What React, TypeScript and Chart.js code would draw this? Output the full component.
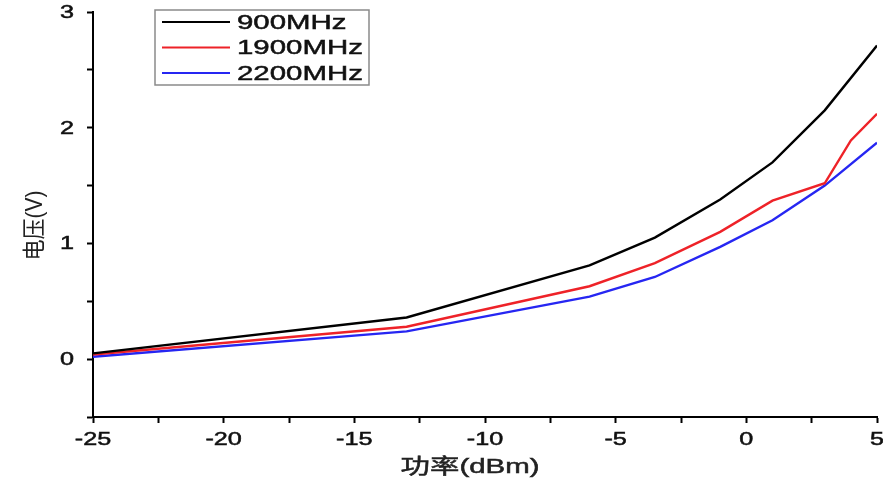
import React, { useEffect, useRef } from "react";
import { Chart, registerables } from "chart.js";

Chart.register(...registerables);

// ---- data ----
const seriesNames = ["900MHz", "1900MHz", "2200MHz"];
const power900 = [-25, -13, -6, -3.5, -1, 1, 3, 5];
const volt900 = [0.05, 0.36, 0.81, 1.05, 1.38, 1.7, 2.15, 2.71];
const power1900 = [-25, -13, -6, -3.5, -1, 1, 3, 4, 5];
const volt1900 = [0.04, 0.28, 0.63, 0.83, 1.1, 1.37, 1.52, 1.89, 2.12];
const power2200 = [-25, -13, -6, -3.5, -1, 1, 3, 5];
const volt2200 = [0.02, 0.24, 0.54, 0.71, 0.97, 1.2, 1.5, 1.87];
const xTickLabels = [-25, -20, -15, -10, -5, 0, 5];
const yTickLabels = [0, 1, 2, 3];
const xTitle = "功率(dBm)";
const yTitle = "电压(V)";

const colors = ["#000000", "#ee2228", "#2626f2"];
const SX = 1.4; // horizontal stretch of the reference's text

function stretchedText(ctx: CanvasRenderingContext2D, text: string, x: number, y: number, align: CanvasTextAlign) {
  ctx.save();
  ctx.translate(x, y);
  ctx.scale(SX, 1);
  ctx.textAlign = align;
  ctx.fillText(text, 0, 0);
  ctx.lineWidth = 0.5;
  ctx.strokeStyle = ctx.fillStyle as string;
  ctx.strokeText(text, 0, 0);
  ctx.restore();
}

const textPlugin = {
  id: "refText",
  afterDraw(chart: any) {
    const ctx: CanvasRenderingContext2D = chart.ctx;
    const xs = chart.scales.x;
    const ys = chart.scales.y;
    const area = chart.chartArea;
    ctx.save();
    ctx.fillStyle = "#111111";
    ctx.font = "18px 'Liberation Sans', Arial, sans-serif";
    ctx.textBaseline = "alphabetic";
    xTickLabels.forEach((v) => {
      stretchedText(ctx, String(v), xs.getPixelForValue(v), area.bottom + 28, "center");
    });
    ctx.textBaseline = "middle";
    yTickLabels.forEach((v) => {
      stretchedText(ctx, String(v), area.left - 19, ys.getPixelForValue(v) + 1, "right");
    });
    // axis titles
    ctx.fillStyle = "#222222";
    ctx.font = "21px 'Liberation Sans', 'Noto Sans CJK SC', sans-serif";
    ctx.textBaseline = "alphabetic";
    stretchedText(ctx, xTitle, (area.left + area.right) / 2 - 15, area.bottom + 56, "center");
    ctx.save();
    ctx.translate(area.left - 57, (area.top + area.bottom) / 2 + 11);
    ctx.rotate(-Math.PI / 2);
    ctx.scale(1, 1.1);
    ctx.textAlign = "center";
    ctx.textBaseline = "middle";
    ctx.fillText(yTitle, 0, 0);
    ctx.restore();

    // legend box
    const bx = area.left + 62;
    const by = area.top - 2;
    const bw = 214;
    const bh = 75;
    ctx.fillStyle = "#ffffff";
    ctx.fillRect(bx, by, bw, bh);
    ctx.strokeStyle = "#8a8a8a";
    ctx.lineWidth = 1.5;
    ctx.strokeRect(bx, by, bw, bh);
    ctx.font = "21px 'Liberation Sans', Arial, sans-serif";
    ctx.textBaseline = "middle";
    seriesNames.forEach((name, i) => {
      const yy = by + 12 + i * 25.5;
      ctx.strokeStyle = colors[i];
      ctx.lineWidth = 2.2;
      ctx.beginPath();
      ctx.moveTo(bx + 7, yy);
      ctx.lineTo(bx + 75, yy);
      ctx.stroke();
      ctx.fillStyle = "#111111";
      stretchedText(ctx, name, bx + 82, yy + 1, "left");
    });
    ctx.restore();
  },
};

export default function App() {
  const canvasRef = useRef<HTMLCanvasElement | null>(null);

  useEffect(() => {
    document.body.style.margin = "0";
    const canvas = canvasRef.current;
    if (!canvas) return;
    const toPoints = (xs: number[], ys: number[]) => xs.map((x, i) => ({ x, y: ys[i] }));
    const datasets = [
      toPoints(power900, volt900),
      toPoints(power1900, volt1900),
      toPoints(power2200, volt2200),
    ].map((data, i) => ({
      label: seriesNames[i],
      data,
      borderColor: colors[i],
      backgroundColor: colors[i],
      borderWidth: 2.4,
      pointRadius: 0,
      tension: 0,
      fill: false,
    }));

    const axisCommon = {
      border: { display: true, color: "#000", width: 2 },
      grid: {
        display: true,
        drawOnChartArea: false,
        drawTicks: true,
        tickLength: 6,
        tickWidth: 2,
        tickColor: "#000",
      },
    };

    const chart = new Chart(canvas, {
      type: "line",
      data: { datasets },
      options: {
        animation: false,
        responsive: false,
        devicePixelRatio: 1,
        layout: { padding: { left: 87, right: 6, top: 12, bottom: 56 } },
        plugins: { legend: { display: false }, tooltip: { enabled: false } },
        scales: {
          x: {
            type: "linear",
            min: -25,
            max: 5,
            ...axisCommon,
            ticks: { display: false, stepSize: 2.5 },
          },
          y: {
            type: "linear",
            min: -0.5,
            max: 3,
            ...axisCommon,
            ticks: { display: false, stepSize: 0.5 },
          },
        },
      },
      plugins: [textPlugin],
    });
    return () => chart.destroy();
  }, []);

  return (
    <div style={{ width: 883, height: 479, background: "#fff" }}>
      <canvas ref={canvasRef} width={883} height={479} style={{ display: "block" }} />
    </div>
  );
}
